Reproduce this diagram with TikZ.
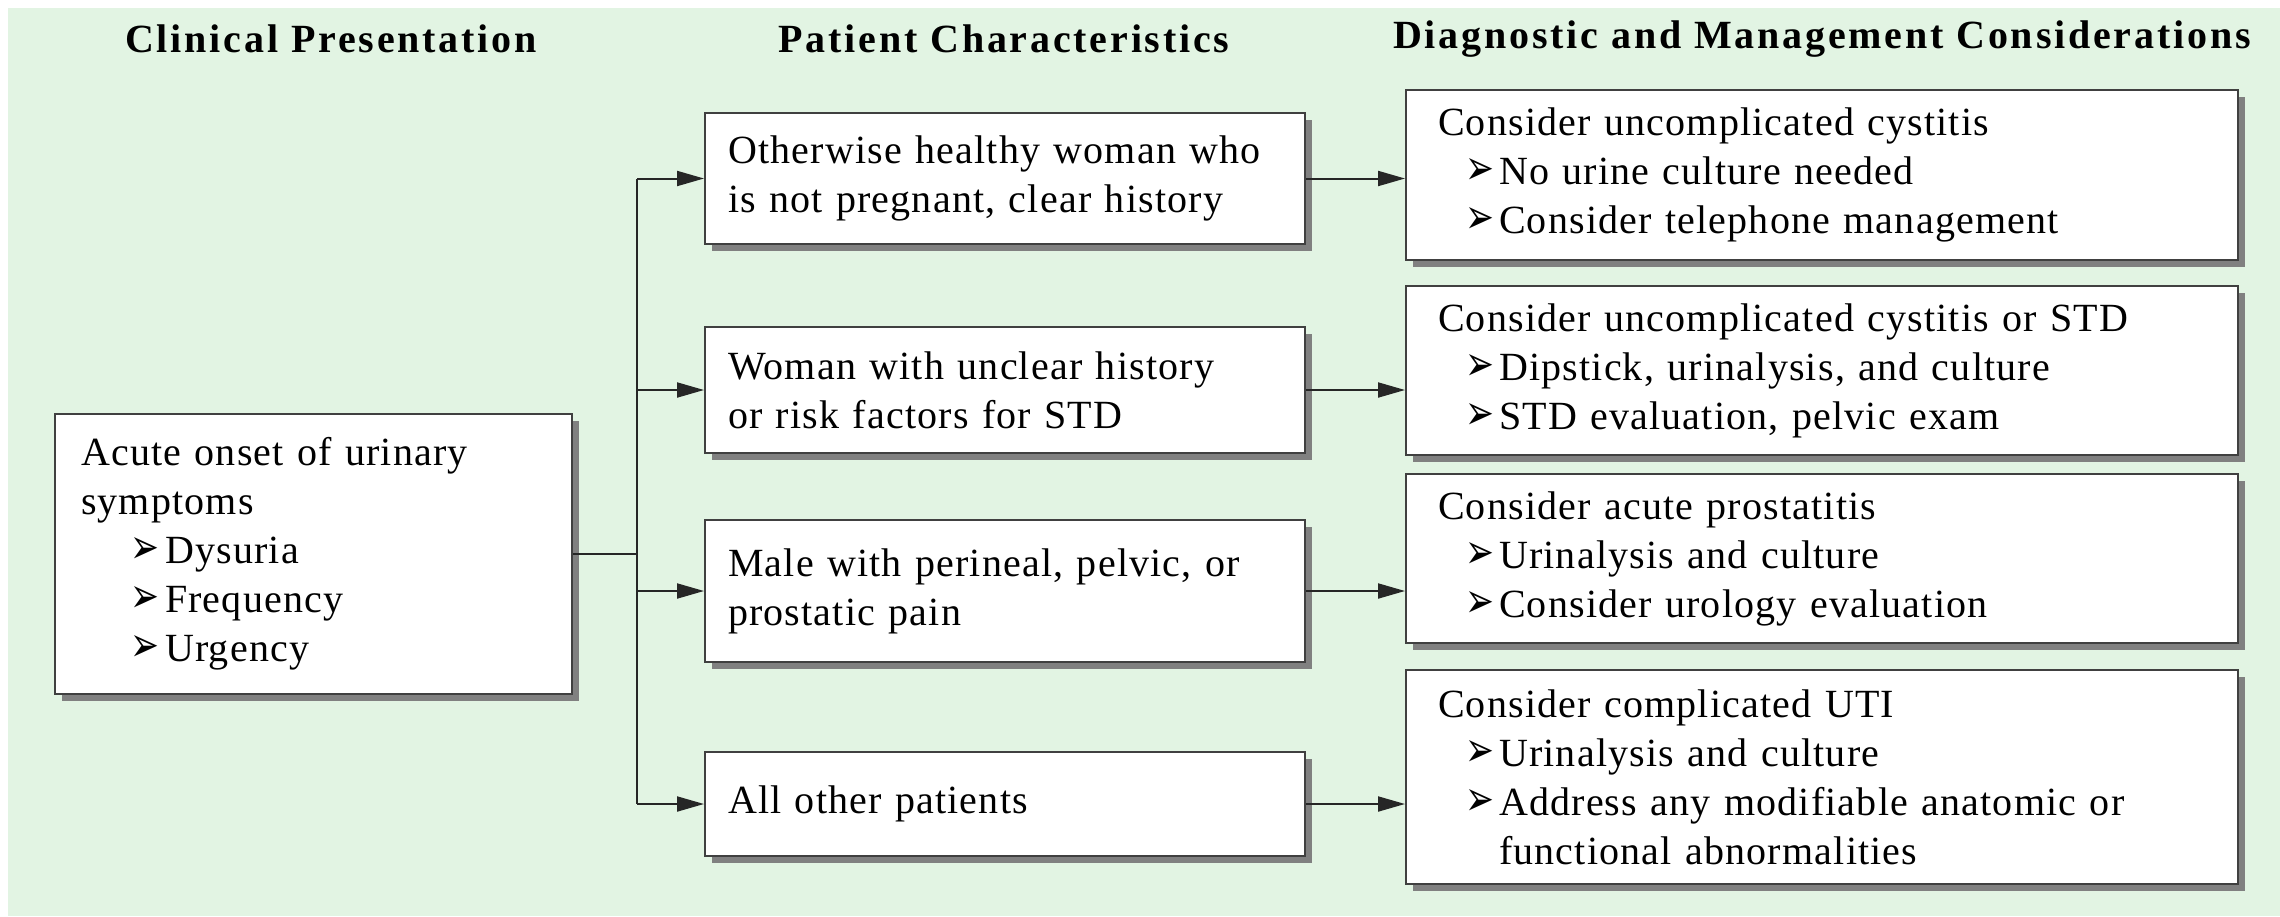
\documentclass[tikz,border=0pt]{standalone}
\usepackage{fontspec}
\usepackage{graphicx}
\setmainfont{Liberation Serif}
\newfontfamily\bodyfont[LetterSpace=3]{Liberation Serif}
\newfontfamily\headfont[LetterSpace=7]{Liberation Serif}
\newfontfamily\symfont{DejaVu Sans}
\usetikzlibrary{arrows.meta,shadows}
\definecolor{bgreen}{RGB}{226,244,227}
\newcommand\mybul{\resizebox{14.5pt}{13pt}{\symfont ➢}}
\newcommand\myitem[1]{\hspace*{13.5pt}\makebox[17pt][l]{\mybul}#1}
\newcommand\myleftitem[1]{\hspace*{24.5pt}\makebox[17.5pt][l]{\mybul}#1}
\tikzset{
  box/.style={draw=black!75, line width=1pt, fill=white,
    drop shadow={shadow xshift=3.5pt, shadow yshift=-3.5pt, fill=black!50, opacity=1},
    align=left, anchor=north west, inner ysep=0pt,
    font=\bodyfont\fontsize{20}{24.5}\selectfont},
  midbox/.style={box, minimum width=300pt, inner xsep=11.5pt, text width=277pt},
  rightbox/.style={box, minimum width=416pt, inner xsep=16pt, text width=384pt},
  leftbox/.style={box, minimum width=258.5pt, inner xsep=13pt, text width=232.5pt},
  header/.style={font=\headfont\bfseries\fontsize{20}{24}\selectfont, inner sep=0pt},
  conn/.style={draw=black!85, line width=1pt},
  arr/.style={conn, -{Triangle[length=13.5pt,width=7.5pt]}}
}
\begin{document}
\begin{tikzpicture}[x=0.5pt,y=-0.5pt]
\useasboundingbox (0,0) rectangle (2280,916);
\fill[bgreen] (8,8) rectangle (2280,916);

\node[header] (h1) at (331,39) {Clinical Presentation};
\node[header] (h2) at (1004,39) {Patient Characteristics};
\node[header] (h3) at (1822,39) {Diagnostic and Management Considerations};

\node[leftbox, minimum height=140pt] (L) at (54,413) {Acute onset of urinary\\ symptoms\\ \myleftitem{Dysuria}\\ \myleftitem{Frequency}\\ \myleftitem{Urgency}};

\node[midbox, minimum height=65.5pt] (m1) at (704,112) {Otherwise healthy woman who\\ is not pregnant, clear history};
\node[midbox, minimum height=63pt] (m2) at (704,326) {Woman with unclear history\\ or risk factors for STD};
\node[midbox, minimum height=71pt] (m3) at (704,519) {Male with perineal, pelvic, or\\ prostatic pain};
\node[midbox, minimum height=52pt] (m4) at (704,751) {All other patients};

\node[rightbox, minimum height=85pt] (r1) at (1405,89) {Consider uncomplicated cystitis\\ \myitem{No urine culture needed}\\ \myitem{Consider telephone management}};
\node[rightbox, minimum height=84.5pt] (r2) at (1405,285) {Consider uncomplicated cystitis or STD\\ \myitem{Dipstick, urinalysis, and culture}\\ \myitem{STD evaluation, pelvic exam}};
\node[rightbox, minimum height=84.5pt] (r3) at (1405,473) {Consider acute prostatitis\\ \myitem{Urinalysis and culture}\\ \myitem{Consider urology evaluation}};
\node[rightbox, minimum height=107pt] (r4) at (1405,669) {Consider complicated UTI\\ \myitem{Urinalysis and culture}\\ \myitem{Address any modifiable anatomic or}\\ \hspace*{30.5pt}functional abnormalities};

\path (L.east) -- ++(64,0) coordinate (jt);
\draw[conn] (L.east) -- (jt);
\draw[conn] (jt |- m1.west) -- (jt |- m4.west);
\foreach \i in {1,2,3,4} {
  \draw[arr] (jt |- m\i.west) -- (m\i.west);
  \draw[arr] (m\i.east) -- (m\i.east -| r\i.west);
}
\end{tikzpicture}
\end{document}
